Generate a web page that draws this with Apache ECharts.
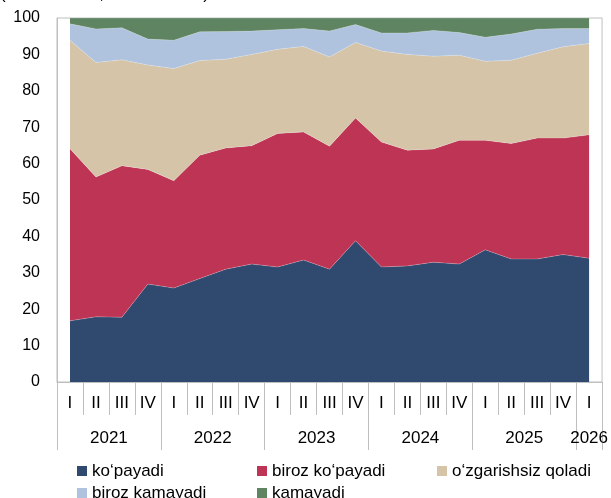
<!DOCTYPE html>
<html>
<head>
<meta charset="utf-8">
<script src="https://cdn.jsdelivr.net/npm/echarts@6/dist/echarts.min.js"></script>
<style>
  html, body { margin: 0; padding: 0; background: #fff; }
  #chart { width: 611px; height: 498px; }
</style>
</head>
<body>
<div id="chart"></div>
<script>
// choraklar va yillar
var quarters = ['I','II','III','IV','I','II','III','IV','I','II','III','IV','I','II','III','IV','I','II','III','IV','I'];
var years = ['2021','2022','2023','2024','2025','2026'];
var yearSpans = [4, 4, 4, 4, 4, 1];

// javoblar ulushi, foizda
var kopayadi       = [16.8, 17.9, 17.8, 26.9, 25.8, 28.4, 31.0, 32.4, 31.6, 33.5, 31.0, 38.8, 31.6, 31.9, 32.9, 32.4, 36.3, 33.8, 33.8, 35.0, 34.0];
var birozKopayadi  = [47.3, 38.4, 41.6, 31.5, 29.5, 33.9, 33.3, 32.5, 36.7, 35.2, 33.8, 33.7, 34.3, 31.8, 31.1, 34.0, 30.1, 31.7, 33.2, 32.0, 33.9];
var ozgarishsiz    = [29.8, 31.5, 29.1, 28.7, 30.8, 26.0, 24.4, 25.1, 23.1, 23.5, 24.5, 20.8, 25.0, 26.3, 25.5, 23.4, 21.7, 22.9, 23.3, 25.1, 25.1];
var birozKamayadi  = [4.5, 9.2, 8.8, 7.1, 7.8, 7.9, 7.6, 6.4, 5.4, 4.9, 7.1, 4.9, 5.0, 5.9, 7.1, 6.2, 6.6, 7.2, 6.6, 5.0, 4.1];
var kamayadi       = [1.6, 3.0, 2.7, 5.8, 6.1, 3.8, 3.7, 3.6, 3.2, 2.9, 3.6, 1.8, 4.1, 4.1, 3.4, 4.0, 5.3, 4.4, 3.1, 2.9, 2.9];

var names = ['ko‘payadi', 'biroz ko‘payadi', 'o‘zgarishsiz qoladi', 'biroz kamayadi', 'kamayadi'];
var colors = ['#2F4A6E', '#BE3455', '#D5C4A8', '#AFC3DF', '#5F8462'];
var seriesData = [kopayadi, birozKopayadi, ozgarishsiz, birozKamayadi, kamayadi];

// yillar o'qi: yarim chorak qadam bilan (43 nuqta), yil nomi guruh o'rtasida
var yearAxis = [], yearTicks = [];
var pos = 0;
yearTicks.push(0);
years.forEach(function (y, i) {
  var span = yearSpans[i] * 2;
  yearAxis[pos + span / 2] = y;
  pos += span;
  yearTicks.push(pos);
});
for (var k = 0; k <= pos; k++) { if (!yearAxis[k]) yearAxis[k] = ''; }

var font = 'Arial, "Liberation Sans", sans-serif';
var grey = '#BFBFBF';

var myChart = echarts.init(document.getElementById('chart'));
myChart.setOption({
  animation: false,
  color: colors,
  // sarlavha rasmda yuqoridan kesilgan
  title: {
    text: '(ishtirokchilar, foiz hisobida)',
    left: -5,
    top: -19,
    textStyle: { fontFamily: font, fontSize: 17, fontWeight: 'normal', color: '#000' }
  },
  grid: {
    left: 57,
    right: 5,
    top: 18,
    bottom: 116,
    show: true,
    borderColor: grey,
    borderWidth: 1
  },
  legend: {
    left: 72,
    top: 455,
    width: 545,
    itemWidth: 10,
    itemHeight: 10,
    itemGap: 0,
    icon: 'rect',
    data: names,
    textStyle: {
      fontFamily: font,
      fontSize: 17,
      color: '#000',
      width: 165,
      lineHeight: 22
    }
  },
  xAxis: [
    {
      type: 'category',
      data: quarters,
      boundaryGap: true,
      axisLine: { lineStyle: { color: grey } },
      axisTick: { show: true, interval: 0, length: 33, lineStyle: { color: grey } },
      axisLabel: { interval: 0, margin: 13, fontFamily: font, fontSize: 17, color: '#000' },
      splitLine: { show: false }
    },
    {
      type: 'category',
      data: yearAxis,
      boundaryGap: false,
      position: 'bottom',
      axisLine: { show: false },
      axisTick: {
        show: true,
        length: 68,
        interval: function (idx) { return yearTicks.indexOf(idx) >= 0; },
        lineStyle: { color: grey }
      },
      axisLabel: {
        margin: 48,
        fontFamily: font,
        fontSize: 17,
        color: '#000',
        interval: function (idx, val) { return val !== ''; }
      },
      splitLine: { show: false }
    }
  ],
  yAxis: {
    type: 'value',
    min: 0,
    max: 100,
    interval: 10,
    axisLine: { show: true, lineStyle: { color: grey } },
    axisTick: { show: false },
    splitLine: { show: false },
    axisLabel: { margin: 17, fontFamily: font, fontSize: 16, color: '#000' }
  },
  series: seriesData.map(function (d, i) {
    return {
      name: names[i],
      type: 'line',
      stack: 'jami',
      data: d,
      symbol: 'none',
      xAxisIndex: 0,
      lineStyle: { width: 0.6, color: 'rgba(255,255,255,0.35)' },
      areaStyle: { color: colors[i], opacity: 1 },
      itemStyle: { color: colors[i] }
    };
  })
});
</script>
</body>
</html>
